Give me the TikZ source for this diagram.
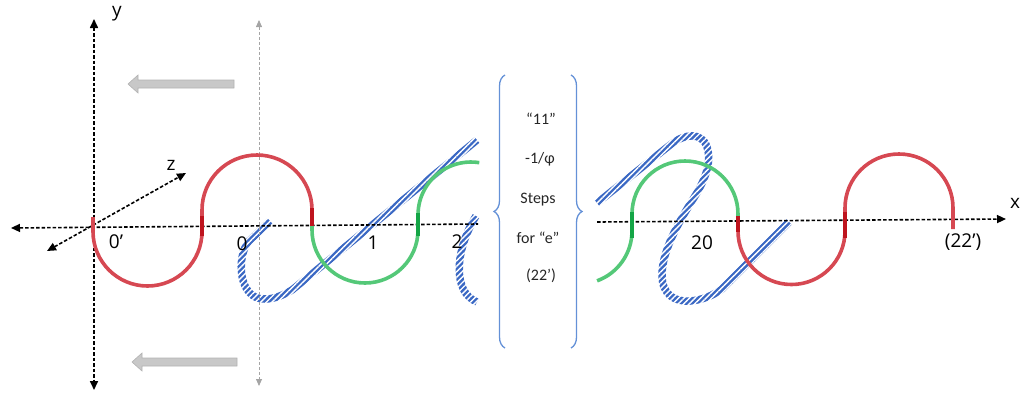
\documentclass[tikz,border=0pt]{standalone}
\usepackage{fontspec}
\setmainfont{Open Sans}
\newfontfamily\bracefont{Carlito}
\usetikzlibrary{arrows.meta,decorations.pathreplacing,patterns.meta}
\definecolor{hatchblue}{RGB}{58,104,196}
\definecolor{curvered}{RGB}{214,72,82}
\definecolor{deepred}{RGB}{190,20,30}
\definecolor{curvegreen}{RGB}{84,200,120}
\definecolor{deepgreen}{RGB}{20,165,70}
\definecolor{bracecol}{RGB}{100,145,215}
\definecolor{blockgray}{RGB}{200,200,200}
\definecolor{blockedge}{RGB}{178,178,178}
\definecolor{guidegray}{RGB}{165,165,165}
\tikzset{
  axtip/.tip={Triangle[length=9pt,width=8pt]},
  gtip/.tip={Triangle[length=7pt,width=6pt]},
  axisline/.style={line width=1.6pt, dash pattern=on 3.5pt off 2pt, black},
  guideline/.style={line width=0.8pt, dash pattern=on 3pt off 2pt, guidegray, gtip-gtip},
  redcurve/.style={line width=3.6pt, curvered},
  greencurve/.style={line width=3.6pt, curvegreen},
  hatchband/.style={line width=7.5pt, hatchblue},
  stripes/.style={pattern={Lines[angle=45,distance=3.9pt,line width=1.4pt]}, pattern color=white},
  blockarrow/.style={fill=blockgray, draw=blockedge, line width=0.6pt},
  lab/.style={font=\fontsize{19}{22}\selectfont, inner sep=0pt},
  bracetext/.style={font=\bracefont\fontsize{16}{19}\selectfont, inner sep=0pt, text=black!85},
  bracestyle/.style={bracecol, line width=1.3pt, decorate, decoration={brace, amplitude=11pt}},
}
\begin{document}
\begin{tikzpicture}[x=1pt,y=-1pt]
\useasboundingbox (0,0) rectangle (1022,392);

% ---- blue hatched bands (drawn first, then cut by white stripes)
\draw[hatchband] (270,221) -- (249,241) .. controls (236,256) and (238,300) .. (265,299)
   .. controls (275,299) and (283,295) .. (292,290) -- (477,140);
\draw[hatchband] (476,216) .. controls (455,250) and (452,292) .. (477,302);
\draw[hatchband] (597,203) -- (670,145) .. controls (685,133) and (702,132) .. (707,147)
   .. controls (712,162) and (705,180) .. (695,196) .. controls (680,220) and (662,250) .. (662,275)
   .. controls (662,295) and (675,302) .. (690,301) .. controls (702,300) and (712,296) .. (722,289)
   -- (789,222);
\fill[stripes] (234,128) rectangle (484,310);
\fill[stripes] (588,124) rectangle (798,310);

% ---- guide line and block arrows
\coordinate (gtop) at (259,20);
\coordinate (gbot) at (259,386);
\draw[guideline] (gtop) -- (gbot);
\draw[blockarrow] (234,80) -- (138,80) -- (138,75) -- (128,84) -- (138,93) -- (138,88) -- (234,88) -- cycle;
\draw[blockarrow] (237,358) -- (142,358) -- (142,353) -- (132,362) -- (142,371) -- (142,366) -- (237,366) -- cycle;

% ---- axes
\coordinate (ytop) at (94,19);
\coordinate (ybot) at (94,390);
\coordinate (xleft) at (11,228);
\coordinate (xmidl) at (478,224);
\coordinate (xmidr) at (597,222);
\coordinate (xright) at (1006,219);
\coordinate (zlow) at (47,251);
\coordinate (zhigh) at (186,173);
\draw[axisline, axtip-axtip] (ytop) -- (ybot);
\draw[axisline, axtip-] (xleft) -- (xmidl);
\draw[axisline, -axtip] (xmidr) -- (xright);
\draw[axisline, axtip-axtip] (zlow) -- (zhigh);

% ---- red and green curves
\draw[redcurve] (93,217) -- (93,231.5) arc[start angle=180,end angle=0,radius=54.5]
   -- (202,210) arc[start angle=180,end angle=360,radius=55] -- (312,226);
\draw[greencurve] (312,226) -- (312,230) arc[start angle=180,end angle=0,radius=53]
   -- (418,215) arc[start angle=180,end angle=279,radius=53];
\draw[greencurve] (597.1,280.8) arc[start angle=70,end angle=0,radius=53]
   -- (632,214) arc[start angle=180,end angle=360,radius=53] -- (738,222);
\draw[redcurve] (738,220) -- (738,231) arc[start angle=180,end angle=0,radius=53.5]
   -- (845,208) arc[start angle=180,end angle=360,radius=54] -- (953,229);
% darker junctions
\draw[line width=3.6pt, deepred] (202,216) -- (202,236);
\draw[line width=3.6pt, deepred] (312,208) -- (312,226);
\draw[line width=3.6pt, deepgreen] (418,213) -- (418,236);
\draw[line width=3.6pt, deepgreen] (632,212) -- (632,238);
\draw[line width=3.6pt, deepred] (738,216) -- (738,232);
\draw[line width=3.6pt, deepred] (845,212) -- (845,238);

% ---- braces and text
\coordinate (lbb) at (505,348);
\coordinate (lbt) at (505,75);
\coordinate (rbt) at (571,75);
\coordinate (rbb) at (571,348);
\draw[bracestyle] (lbb) -- (lbt);
\draw[bracestyle] (rbt) -- (rbb);
\node[bracetext] (t1) at (541,119) {“11”};
\node[bracetext] (t2) at (540,159) {-1/φ};
\node[bracetext] (t3) at (538,200) {Steps};
\node[bracetext] (t4) at (538,238) {for “e”};
\node[bracetext] (t5) at (541,276) {(22’)};

% ---- labels
\node[lab] (ly) at (117,14) {y};
\node[lab] (lz) at (171,165) {z};
\node[lab] (lx) at (1015,203) {x};
\node[lab] (l0p) at (116,242) {0’};
\node[lab] (l0) at (242,244) {0};
\node[lab] (l1) at (373,243) {1};
\node[lab] (l2) at (457,242) {2};
\node[lab] (l20) at (702,243) {20};
\node[lab] (l22) at (963,242) {(22’)};
\end{tikzpicture}
\end{document}
